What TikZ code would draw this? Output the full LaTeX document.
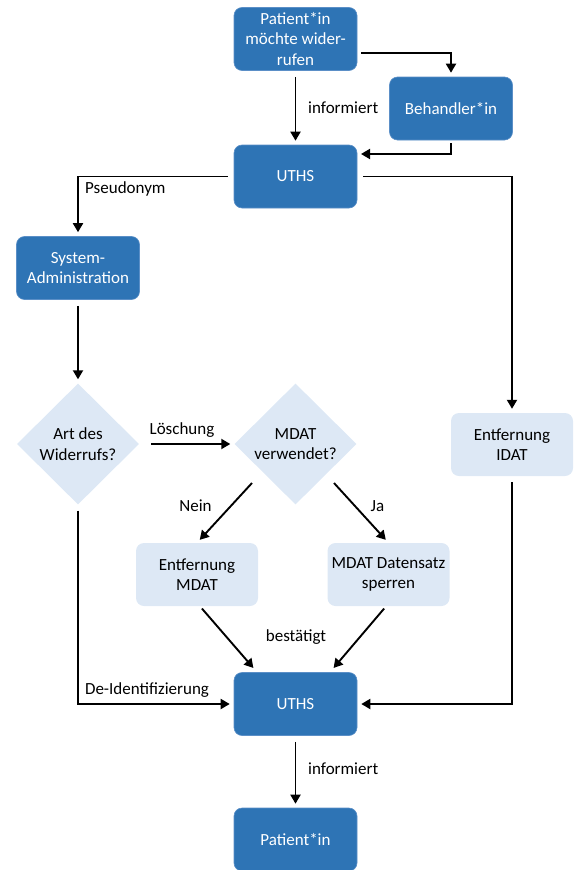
\documentclass[tikz,border=0pt]{standalone}
\usepackage{fontspec}
\setmainfont{Carlito}
\usetikzlibrary{shapes.geometric,arrows.meta}
\definecolor{darkbox}{HTML}{2E74B5}
\definecolor{darkedge}{HTML}{5B8FC7}
\definecolor{lightbox}{HTML}{DDE8F5}
\begin{document}
\begin{tikzpicture}[x=1pt,y=-1pt,
  every node/.style={font=\fontsize{17}{20.5}\selectfont},
  darknode/.style={rectangle,rounded corners=8pt,fill=darkbox,draw=darkedge,line width=0.6pt,
    text=white,minimum width=123pt,minimum height=63pt,align=center,inner sep=2pt},
  lightnode/.style={rectangle,rounded corners=8pt,fill=lightbox,draw=none,
    text=black,minimum width=122pt,minimum height=63pt,align=center,inner sep=2pt},
  decision/.style={diamond,aspect=1,fill=lightbox,draw=none,minimum width=122pt,minimum height=121pt,
    inner sep=0pt,align=center},
  flow/.style={line width=1.9pt,-{Triangle[length=9pt,width=10pt]},shorten <=6pt,shorten >=4pt},
  lbl/.style={text=black,inner sep=0pt}]
\useasboundingbox (0,0) rectangle (577,870);

% boxes and decisions
\node[darknode] (start) at (295.5,39) {Patient*in\\möchte wider-\\rufen};
\node[darknode] (beh) at (451,108.5) {Behandler*in};
\node[darknode] (uths1) at (295.5,176.5) {UTHS};
\node[darknode] (sys) at (78,268) {System-\\Administration};
\node[decision] (art) at (78,444) {Art des\\Widerrufs?};
\node[decision] (mdat) at (295.5,444) {MDAT\\verwendet?};
\node[lightnode] (idat) at (512,444.5) {Entfernung\\IDAT};
\node[lightnode] (emdat) at (197,574.5) {Entfernung\\MDAT};
\node[lightnode] (sperr) at (388.5,574.5) {MDAT Datensatz\\sperren};
\node[darknode] (uths2) at (295.5,704) {UTHS};
\node[darknode] (pat) at (295.5,839.5) {Patient*in};

% connector end points and bends
\coordinate (s1) at (357,53);
\coordinate (u1) at (357,154);
\coordinate (dl) at (252,483);
\coordinate (dr) at (334,483);
\coordinate (el) at (198,604);
\coordinate (er) at (388,604);
\coordinate (tl) at (256,671);
\coordinate (tr) at (331,671);

% connectors
\draw[flow] (start.south) -- (uths1.north);
\draw[flow,shorten <=4pt] (s1) -| (beh.north);
\draw[flow,shorten <=3pt] (beh.south) |- (u1);
\draw[flow] (uths1.west) -| (sys.north);
\draw[flow] (uths1.east) -| (idat.north);
\draw[flow] (sys.south) -- (art.north);
\draw[flow,shorten <=12pt] (art.east) -- (mdat.west);
\draw[flow,shorten <=0pt] (dl) -- (emdat.north);
\draw[flow,shorten <=0pt] (dr) -- (sperr.north);
\draw[flow] (el) -- (tl);
\draw[flow] (er) -- (tr);
\draw[flow] (art.south) |- (uths2.west);
\draw[flow] (idat.south) |- (uths2.east);
\draw[flow] (uths2.south) -- (pat.north);

% connector labels
\node[lbl,anchor=west] (l1) at (308,108) {informiert};
\node[lbl,anchor=west] (l2) at (85,189) {Pseudonym};
\node[lbl] (l3) at (182,430) {Löschung};
\node[lbl] (l4) at (195.5,506) {Nein};
\node[lbl] (l5) at (377.5,506) {Ja};
\node[lbl] (l6) at (296,637) {bestätigt};
\node[lbl] (l7) at (147,690) {De-Identifizierung};
\node[lbl,anchor=west] (l8) at (308,769) {informiert};
\end{tikzpicture}
\end{document}
